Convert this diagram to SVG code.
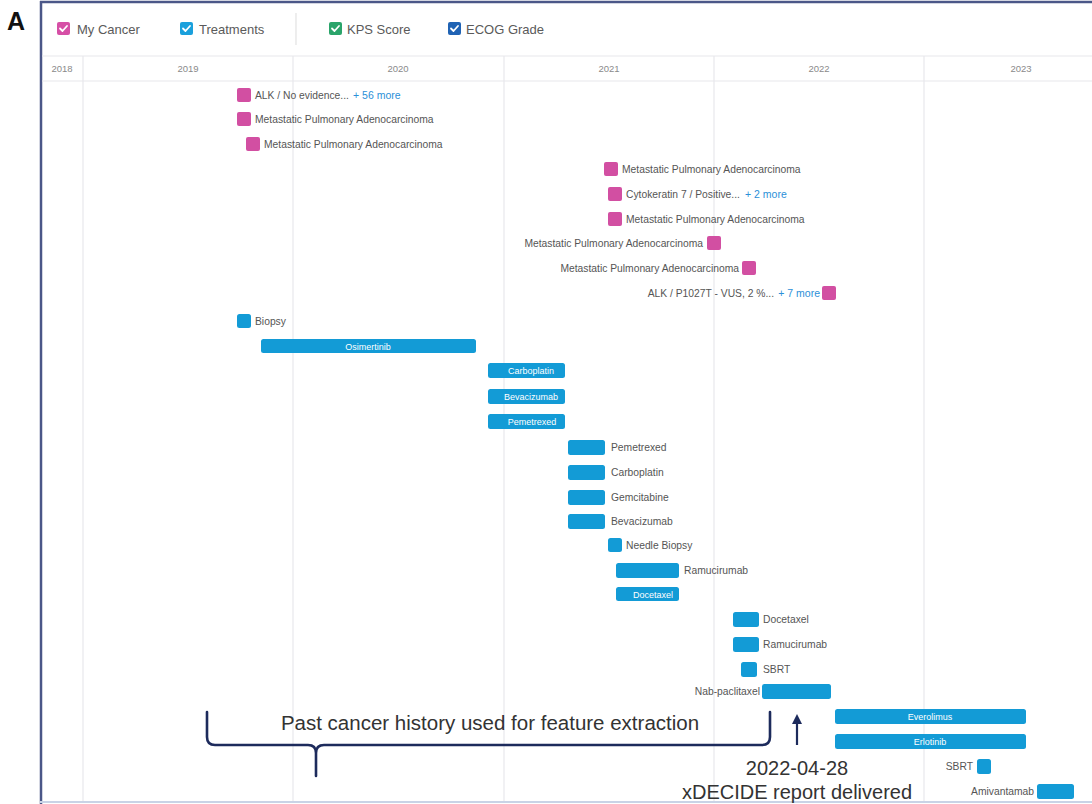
<svg xmlns="http://www.w3.org/2000/svg" width="1092" height="804" viewBox="0 0 1092 804">
<style>
.bg{fill:#ffffff}
.grid{stroke:#e8e8ec;stroke-width:1.2}
.leg{font-family:"Liberation Sans",Arial,sans-serif;font-size:13px;fill:#5a5a5a}
.yr{font-family:"Liberation Sans",Arial,sans-serif;font-size:9.5px;fill:#8a8a8a;text-anchor:middle}
.lbl{font-family:"Liberation Sans",Arial,sans-serif;font-size:10.3px;fill:#555}
.more{font-family:"Liberation Sans",Arial,sans-serif;font-size:10.5px;fill:#2b8fd8}
.in{font-family:"Liberation Sans",Arial,sans-serif;font-size:9px;fill:#ffffff;text-anchor:middle}
.r{text-anchor:end}
.ca{fill:#d24fa2}
.tr{fill:#139bd6}
.ck{fill:none;stroke:#fff;stroke-width:1.8;stroke-linecap:round;stroke-linejoin:round}
.ann{font-family:"Liberation Sans",Arial,sans-serif;fill:#333}
.brace{fill:none;stroke:#1d2b5c;stroke-width:2.6;stroke-linecap:round;stroke-linejoin:round}
</style>
<defs>
<marker id="ah" markerWidth="10" markerHeight="10" refX="5" refY="5" orient="auto" markerUnits="userSpaceOnUse">
<path d="M0,0 L10,5 L0,10 Z" fill="#1d2b5c"/>
</marker>
</defs>
<rect class="bg" x="0" y="0" width="1092" height="804"/>
<text x="7" y="30" font-family="Liberation Sans,Arial,sans-serif" font-size="25" font-weight="bold" fill="#111">A</text>

<!-- frame -->
<line x1="40" y1="2" x2="1092" y2="2" stroke="#4b5788" stroke-width="2.5"/>
<line x1="41" y1="1" x2="41" y2="804" stroke="#4b5788" stroke-width="2.5"/>
<line x1="40" y1="802" x2="1092" y2="802" stroke="#c9d3e6" stroke-width="2"/>

<!-- legend -->
<g id="legend">
<rect x="57" y="22" width="13" height="13" rx="2" fill="#d64fa6"/><path class="ck" d="M60,28.5 L62.5,31 L67,26"/>
<text class="leg" x="77" y="34">My Cancer</text>
<rect x="180" y="22" width="13" height="13" rx="2" fill="#1aa0dc"/><path class="ck" d="M183,28.5 L185.5,31 L190,26"/>
<text class="leg" x="199" y="34">Treatments</text>
<line x1="296" y1="13" x2="296" y2="45" stroke="#e2e2e2" stroke-width="1.2"/>
<rect x="329" y="22" width="13" height="13" rx="2" fill="#2aa46a"/><path class="ck" d="M332,28.5 L334.5,31 L339,26"/>
<text class="leg" x="347" y="34">KPS Score</text>
<rect x="448" y="22" width="13" height="13" rx="2" fill="#2063b4"/><path class="ck" d="M451,28.5 L453.5,31 L458,26"/>
<text class="leg" x="466" y="34">ECOG Grade</text>
</g>

<!-- axis -->
<g id="axis">
<line class="grid" x1="42" y1="56" x2="1092" y2="56"/>
<line class="grid" x1="42" y1="81" x2="1092" y2="81"/>
<line class="grid" x1="83" y1="56" x2="83" y2="801"/>
<line class="grid" x1="293" y1="56" x2="293" y2="801"/>
<line class="grid" x1="504" y1="56" x2="504" y2="801"/>
<line class="grid" x1="714" y1="56" x2="714" y2="801"/>
<line class="grid" x1="924" y1="56" x2="924" y2="801"/>
<text class="yr" x="62" y="72">2018</text>
<text class="yr" x="188" y="72">2019</text>
<text class="yr" x="398" y="72">2020</text>
<text class="yr" x="609" y="72">2021</text>
<text class="yr" x="819" y="72">2022</text>
<text class="yr" x="1021" y="72">2023</text>
</g>

<!-- cancer items -->
<g id="c1"><rect class="ca" x="237" y="88" width="14" height="14" rx="2"/><text class="lbl" x="255" y="99">ALK / No evidence...</text><text class="more" x="353" y="99">+ 56 more</text></g>
<g id="c2"><rect class="ca" x="237" y="112" width="14" height="14" rx="2"/><text class="lbl" x="255" y="123">Metastatic Pulmonary Adenocarcinoma</text></g>
<g id="c3"><rect class="ca" x="246" y="137" width="14" height="14" rx="2"/><text class="lbl" x="264" y="148">Metastatic Pulmonary Adenocarcinoma</text></g>
<g id="c4"><rect class="ca" x="604" y="162" width="14" height="14" rx="2"/><text class="lbl" x="622" y="173">Metastatic Pulmonary Adenocarcinoma</text></g>
<g id="c5"><rect class="ca" x="608" y="187" width="14" height="14" rx="2"/><text class="lbl" x="626" y="198">Cytokeratin 7 / Positive...</text><text class="more" x="745" y="198">+ 2 more</text></g>
<g id="c6"><rect class="ca" x="608" y="212" width="14" height="14" rx="2"/><text class="lbl" x="626" y="223">Metastatic Pulmonary Adenocarcinoma</text></g>
<g id="c7"><rect class="ca" x="707" y="236" width="14" height="14" rx="2"/><text class="lbl r" x="703" y="247">Metastatic Pulmonary Adenocarcinoma</text></g>
<g id="c8"><rect class="ca" x="742" y="261" width="14" height="14" rx="2"/><text class="lbl r" x="739" y="272">Metastatic Pulmonary Adenocarcinoma</text></g>
<g id="c9"><rect class="ca" x="822" y="286" width="14" height="14" rx="2"/><text class="more r" x="820" y="297">+ 7 more</text><text class="lbl r" x="774" y="297">ALK / P1027T - VUS, 2 %...</text></g>

<!-- treatments -->
<g id="t1"><rect class="tr" x="237" y="314" width="14" height="14" rx="2.5"/><text class="lbl" x="255" y="325">Biopsy</text></g>
<g id="t2"><rect class="tr" x="261" y="339" width="215" height="14" rx="2.5"/><text class="in" x="368" y="349.5">Osimertinib</text></g>
<g id="t3"><rect class="tr" x="488" y="363" width="77" height="15" rx="2.5"/><text class="in" x="531" y="374">Carboplatin</text></g>
<g id="t4"><rect class="tr" x="488" y="389" width="77" height="15" rx="2.5"/><text class="in" x="531" y="400">Bevacizumab</text></g>
<g id="t5"><rect class="tr" x="488" y="414" width="77" height="15" rx="2.5"/><text class="in" x="532" y="425">Pemetrexed</text></g>
<g id="t6"><rect class="tr" x="568" y="440" width="37" height="15" rx="2.5"/><text class="lbl" x="611" y="451">Pemetrexed</text></g>
<g id="t7"><rect class="tr" x="568" y="465" width="37" height="15" rx="2.5"/><text class="lbl" x="611" y="476">Carboplatin</text></g>
<g id="t8"><rect class="tr" x="568" y="490" width="37" height="15" rx="2.5"/><text class="lbl" x="611" y="501">Gemcitabine</text></g>
<g id="t9"><rect class="tr" x="568" y="514" width="37" height="15" rx="2.5"/><text class="lbl" x="611" y="525">Bevacizumab</text></g>
<g id="t10"><rect class="tr" x="608" y="538" width="14" height="14" rx="2.5"/><text class="lbl" x="626" y="549">Needle Biopsy</text></g>
<g id="t11"><rect class="tr" x="616" y="563" width="63" height="15" rx="2.5"/><text class="lbl" x="684" y="574">Ramucirumab</text></g>
<g id="t12"><rect class="tr" x="616" y="587" width="63" height="14" rx="2.5"/><text class="in" x="653" y="597.5">Docetaxel</text></g>
<g id="t13"><rect class="tr" x="733" y="612" width="26" height="15" rx="2.5"/><text class="lbl" x="763" y="623">Docetaxel</text></g>
<g id="t14"><rect class="tr" x="733" y="637" width="26" height="15" rx="2.5"/><text class="lbl" x="763" y="648">Ramucirumab</text></g>
<g id="t15"><rect class="tr" x="741" y="662" width="16" height="15" rx="2.5"/><text class="lbl" x="763" y="673">SBRT</text></g>
<g id="t16"><rect class="tr" x="762" y="684" width="69" height="15" rx="2.5"/><text class="lbl r" x="760" y="695">Nab-paclitaxel</text></g>
<g id="t17"><rect class="tr" x="835" y="709" width="191" height="15" rx="2.5"/><text class="in" x="930" y="719.5">Everolimus</text></g>
<g id="t18"><rect class="tr" x="835" y="734" width="191" height="15" rx="2.5"/><text class="in" x="930" y="744.5">Erlotinib</text></g>
<g id="t19"><rect class="tr" x="977" y="759" width="14" height="15" rx="2.5"/><text class="lbl r" x="973" y="770" font-size="9.5">SBRT</text></g>
<g id="t20"><rect class="tr" x="1037" y="784" width="37" height="15" rx="2.5"/><text class="lbl r" x="1034" y="795" font-size="9.5">Amivantamab</text></g>

<!-- annotations -->
<g id="connectors">
<path class="brace" d="M207,712 L207,737 Q207,745 215,745 L308,745 Q316,745 316,753 L316,776 M316,753 Q316,745 324,745 L762,745 Q770,745 770,737 L770,712"/>
<line x1="797" y1="745" x2="797" y2="719" stroke="#1d2b5c" stroke-width="2.2" marker-end="url(#ah)"/>
</g>
<g id="ann-history"><text class="ann" x="490" y="730" font-size="20.5" text-anchor="middle">Past cancer history used for feature extraction</text></g>
<g id="ann-report">
<text class="ann" x="797" y="775" font-size="20" text-anchor="middle">2022-04-28</text>
<text class="ann" x="797" y="799" font-size="20" text-anchor="middle">xDECIDE report delivered</text>
</g>
</svg>
